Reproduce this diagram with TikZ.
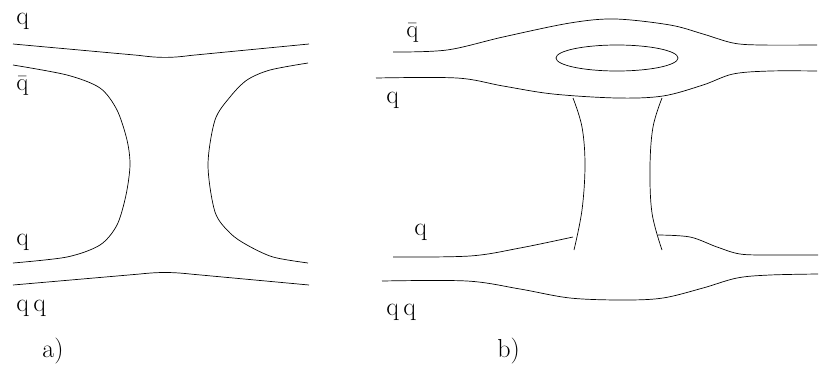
\documentclass[tikz,border=0pt]{standalone}
\usetikzlibrary{math}

\begin{document}
\begin{tikzpicture}[x=1pt,y=-1pt,line width=0.7pt,
  lbl/.style={anchor=base west,inner sep=0pt,font=\fontsize{26}{30}\selectfont}]
\useasboundingbox (0,0) rectangle (820,365);

% a)
\draw (13,44) -- (140,55.5) .. controls (158,58) and (172,58) .. (190,55.5) -- (309,44);
\draw (13,285) -- (140,274) .. controls (158,272) and (172,272) .. (190,274) -- (309,285);
\draw plot[smooth,tension=0.5] coordinates {(13,65) (67,75) (100,88) (117,110) (127,140)
  (130,165) (126,195) (117,225) (100,245) (67,257) (13,263)};
\draw plot[smooth,tension=0.5] coordinates {(308,63) (270,70) (247,80) (230,97) (215,120)
  (208,165) (215,212) (230,233) (247,245) (273,257) (308,263)};
\node[lbl] (qa1) at (16,24) {q};
\node[lbl] (qa2) at (16,90) {$\bar{\mathrm{q}}$};
\node[lbl] (qa3) at (16,245) {q};
\node[lbl] (qa4) at (16,311) {q\,q};
\node[lbl] (la) at (42,357) {a)};

% b)
\draw plot[smooth,tension=0.55] coordinates {(393,52) (447,50) (503,37) (570,23) (615,19) (670,25)
  (703,34) (733,43) (760,45) (817,45)};
\draw plot[smooth,tension=0.55] coordinates {(376,78) (457,78) (503,86) (553,94) (617,98) (663,96)
  (703,85) (733,74) (770,71) (817,71)};
\draw (617,58) ellipse (61 and 13);
\draw plot[smooth,tension=0.6] coordinates {(573,98) (582,127) (585,165) (582,210) (574,250)};
\draw plot[smooth,tension=0.6] coordinates {(662,98) (653,127) (650,167) (652,213) (662,250)};
\draw plot[smooth,tension=0.55] coordinates {(393,257) (470,256) (520,248) (573,237)};
\draw plot[smooth,tension=0.55] coordinates {(658,235) (690,237) (717,247) (740,254) (770,255) (818,255)};
\draw plot[smooth,tension=0.55] coordinates {(382,281) (467,281) (520,289) (570,298) (623,300) (663,298)
  (703,288) (737,278) (770,275) (818,274)};
\node[lbl] (qb1) at (406,37) {$\bar{\mathrm{q}}$};
\node[lbl] (qb2) at (386,103) {q};
\node[lbl] (qb3) at (414,235) {q};
\node[lbl] (qb4) at (386,315) {q\,q};
\node[lbl] (lb) at (497,357) {b)};
\end{tikzpicture}
\end{document}
